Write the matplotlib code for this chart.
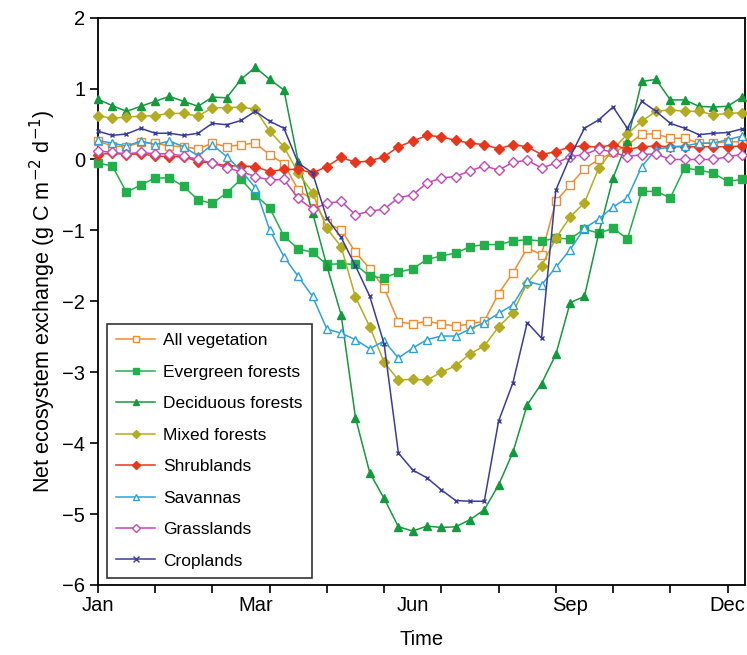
import numpy as np
import matplotlib
matplotlib.use('Agg')
import matplotlib.pyplot as plt

plt.rcParams['font.family'] = ['Liberation Sans', 'DejaVu Sans']

# 8-day composite index over the year (46 periods)
period = np.arange(46)

all_veg = [0.26, 0.19, 0.18, 0.24, 0.23, 0.19, 0.18, 0.15, 0.23, 0.18, 0.21, 0.23, 0.07, -0.06, -0.43,
           -0.57, -0.90, -0.99, -1.31, -1.54, -1.81, -2.29, -2.32, -2.28, -2.32, -2.35, -2.32, -2.28, -1.89, -1.60,
           -1.25, -1.34, -0.59, -0.36, -0.13, 0.00, 0.10, 0.20, 0.36, 0.36, 0.30, 0.30, 0.23, 0.23, 0.25, 0.25]
evergreen = [-0.05, -0.09, -0.46, -0.36, -0.26, -0.26, -0.38, -0.57, -0.62, -0.47, -0.28, -0.50, -0.68, -1.08, -1.26,
             -1.31, -1.48, -1.47, -1.48, -1.65, -1.67, -1.59, -1.54, -1.41, -1.36, -1.32, -1.23, -1.20, -1.20, -1.15,
             -1.13, -1.15, -1.11, -1.12, -0.98, -1.04, -0.97, -1.12, -0.45, -0.45, -0.54, -0.12, -0.15, -0.19, -0.31, -0.28]
deciduous = [0.85, 0.76, 0.68, 0.75, 0.82, 0.89, 0.82, 0.75, 0.88, 0.87, 1.13, 1.30, 1.13, 0.98, -0.03,
             -0.75, -1.50, -2.19, -3.64, -4.42, -4.78, -5.18, -5.24, -5.17, -5.19, -5.18, -5.08, -4.94, -4.59, -4.13,
             -3.46, -3.16, -2.75, -2.02, -1.93, -1.04, -0.26, 0.26, 1.10, 1.13, 0.84, 0.84, 0.75, 0.74, 0.75, 0.88]
mixed = [0.62, 0.58, 0.60, 0.61, 0.62, 0.65, 0.65, 0.61, 0.73, 0.73, 0.74, 0.71, 0.40, 0.18, -0.19,
         -0.47, -0.97, -1.23, -1.94, -2.36, -2.86, -3.11, -3.10, -3.11, -3.00, -2.91, -2.74, -2.63, -2.36, -2.16,
         -1.74, -1.50, -1.11, -0.81, -0.61, -0.12, 0.14, 0.36, 0.54, 0.68, 0.70, 0.68, 0.68, 0.63, 0.65, 0.66]
shrub = [0.07, 0.09, 0.07, 0.08, 0.05, 0.04, 0.04, -0.03, -0.05, -0.09, -0.09, -0.10, -0.17, -0.14, -0.14,
         -0.19, -0.10, 0.03, -0.04, -0.02, 0.04, 0.18, 0.26, 0.34, 0.32, 0.27, 0.23, 0.21, 0.15, 0.21,
         0.18, 0.07, 0.11, 0.18, 0.19, 0.17, 0.21, 0.14, 0.18, 0.19, 0.18, 0.18, 0.18, 0.18, 0.18, 0.19]
savanna = [0.27, 0.23, 0.19, 0.26, 0.21, 0.26, 0.18, 0.05, 0.21, 0.04, -0.15, -0.40, -0.99, -1.37, -1.65,
           -1.93, -2.39, -2.45, -2.54, -2.67, -2.56, -2.80, -2.66, -2.54, -2.49, -2.49, -2.39, -2.30, -2.17, -2.05,
           -1.72, -1.77, -1.52, -1.27, -0.97, -0.84, -0.67, -0.54, -0.10, 0.14, 0.18, 0.19, 0.23, 0.23, 0.28, 0.33]
grass = [0.12, 0.10, 0.08, 0.10, 0.08, 0.08, 0.05, 0.00, -0.05, -0.12, -0.17, -0.24, -0.29, -0.28, -0.55,
         -0.70, -0.62, -0.59, -0.78, -0.73, -0.70, -0.54, -0.50, -0.33, -0.26, -0.24, -0.16, -0.09, -0.15, -0.04,
         -0.01, -0.12, -0.05, 0.04, 0.07, 0.15, 0.10, 0.04, 0.07, 0.08, 0.00, 0.00, 0.00, 0.00, 0.04, 0.07]
crop = [0.40, 0.34, 0.36, 0.44, 0.37, 0.37, 0.34, 0.37, 0.51, 0.49, 0.55, 0.68, 0.54, 0.44, -0.05,
        -0.19, -0.83, -1.10, -1.50, -1.93, -2.60, -4.14, -4.38, -4.49, -4.66, -4.81, -4.82, -4.82, -3.69, -3.15,
        -2.30, -2.52, -0.43, 0.04, 0.44, 0.56, 0.74, 0.44, 0.82, 0.68, 0.51, 0.44, 0.35, 0.37, 0.38, 0.43]

month_ticks = np.arange(0, 45, 4)
label_pos = [0, 11, 22, 33, 44]
label_txt = ['Jan', 'Mar', 'Jun', 'Sep', 'Dec']

fig = plt.figure(figsize=(7.47, 6.55), dpi=100)
ax = fig.add_axes([0.131, 0.107, 0.866, 0.866])

# name, values, colour, marker, filled
series = [
    ('All vegetation', all_veg, '#f28c2e', 's', False),
    ('Evergreen forests', evergreen, '#22b04b', 's', True),
    ('Deciduous forests', deciduous, '#139a3c', '^', True),
    ('Mixed forests', mixed, '#b3ac22', 'D', True),
    ('Shrublands', shrub, '#e8361c', 'D', True),
    ('Savannas', savanna, '#2ba3dc', '^', False),
    ('Grasslands', grass, '#c448b8', 'D', False),
    ('Croplands', crop, '#3a3c9c', 'x', True),
]

for name, vals, col, mk, filled in series:
    ms = 6 if mk != 'D' else 5
    if mk == 'x':
        ms = 3.5
    ax.plot(period, vals, color=col, lw=1.1, marker=mk, ms=ms,
            mfc=col if filled else 'white', mec=col, mew=1.0,
            label=name, clip_on=False, zorder=3)

ax.set_xlim(0, 45.2)
ax.set_ylim(-6, 2)
ax.set_yticks(np.arange(-6, 3, 1))
ax.set_yticklabels(['\u22126', '\u22125', '\u22124', '\u22123', '\u22122', '\u22121', '0', '1', '2'])
ax.xaxis.remove_overlapping_locs = False
ax.set_xticks(month_ticks)
ax.set_xticklabels([])
ax.set_xticks(label_pos, minor=True)
ax.set_xticklabels(label_txt, minor=True)
ax.tick_params(axis='x', which='minor', length=0, pad=8, labelsize=14.5)
ax.tick_params(axis='x', which='major', direction='out', length=6, width=1.2)
ax.tick_params(axis='y', direction='out', length=6, width=1.2, labelsize=14.5, pad=3)
for s in ax.spines.values():
    s.set_linewidth(1.3)

ax.set_xlabel('Time', fontsize=14.5, labelpad=11)
ax.set_ylabel('Net ecosystem exchange (g C m$^{-2}$ d$^{-1}$)', fontsize=15.5, labelpad=3)

leg = ax.legend(loc='lower left', bbox_to_anchor=(0.014, 0.012), borderaxespad=0,
                fontsize=12.5, frameon=True, fancybox=False, edgecolor='black',
                handlelength=2.2, labelspacing=0.94, borderpad=0.55, handletextpad=0.5)
leg.get_frame().set_linewidth(1.2)
for h in leg.legend_handles:
    h.set_markersize(4.5)

fig.savefig('out.png', dpi=100)
